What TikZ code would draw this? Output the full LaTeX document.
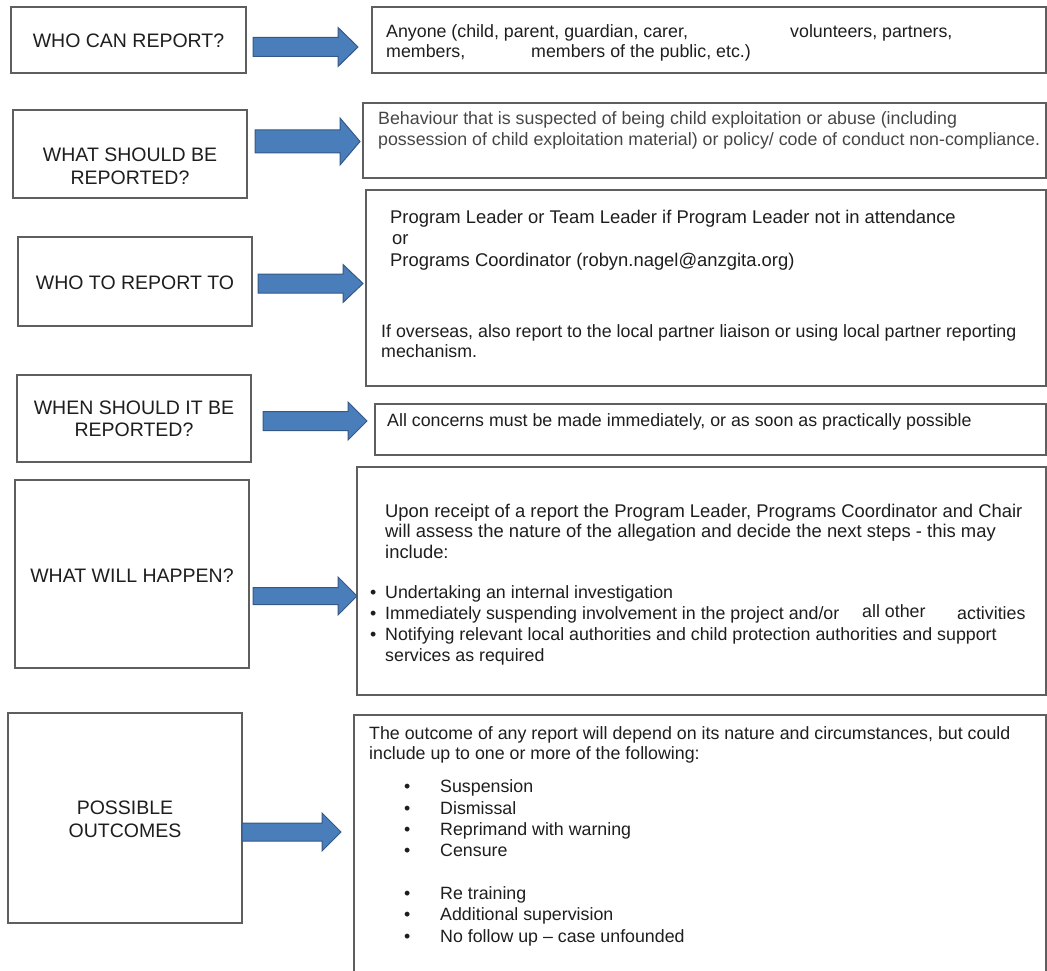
\documentclass[tikz,border=0pt]{standalone}
\usepackage{fontspec}
\setmainfont{Liberation Sans}
\definecolor{arrowfill}{RGB}{74,126,187}
\definecolor{arrowdraw}{RGB}{52,88,135}
\definecolor{boxline}{RGB}{95,95,95}
\definecolor{txtc}{RGB}{30,30,30}
\definecolor{txtl}{RGB}{70,70,70}
\tikzset{
  box/.style={draw=boxline, line width=1.3pt, fill=white, inner sep=0pt, outer sep=0pt},
  lbl/.style={inner sep=0pt, text=txtc, font=\fontsize{19.5}{22}\selectfont, anchor=base},
  body/.style={inner sep=0pt, text=txtc, font=\fontsize{17.8}{21}\selectfont, anchor=base west},
  bodyw/.style={body, font=\fontsize{18.4}{21}\selectfont},
  bodyl/.style={body, text=txtl},
  arr/.style={fill=arrowfill, draw=arrowdraw, line width=1pt, line join=miter}
}
\newcommand\mybox[5]{\node[box, anchor=north west, minimum width={#4-#2}, minimum height={#5-#3}] (#1) at (#2,#3) {};}
% x0, x1, xh, yc, body half, head half
\newcommand\blockarrow[6]{\draw[arr] (#1,#4-#5) -- (#3,#4-#5) -- (#3,#4-#6) -- (#2,#4) -- (#3,#4+#6) -- (#3,#4+#5) -- (#1,#4+#5) -- cycle;}
\begin{document}
\begin{tikzpicture}[x=1pt,y=-1pt]
\useasboundingbox (0,0) rectangle (1047,971);
\clip (0,0) rectangle (1047,971);
\fill[white] (0,0) rectangle (1047,971);

% left boxes
\mybox{L1}{11}{7}{246}{73}
\mybox{L2}{13}{110}{247}{198}
\mybox{L3}{18}{237}{252}{326}
\mybox{L4}{17}{375}{251}{462}
\mybox{L5}{15}{480}{249}{668}
\mybox{L6}{8}{713}{242}{923}

% right boxes
\mybox{R1}{372}{7}{1046}{73}
\mybox{R2}{363}{103}{1046}{178}
\mybox{R3}{366}{190}{1046}{386}
\mybox{R4}{375}{404}{1046}{455}
\mybox{R5}{357}{467}{1046}{695}
\mybox{R6}{354}{715}{1046}{985}

% arrows
\blockarrow{253}{358}{338}{47}{9.5}{19.5}
\blockarrow{255}{360}{340}{141.5}{11.5}{23.5}
\blockarrow{258}{363}{343}{283.5}{9.5}{19}
\blockarrow{263}{367}{348}{421}{9.5}{19}
\blockarrow{253}{357}{338}{596}{8.5}{19}
\blockarrow{242}{341}{322}{832}{9}{19}

% left labels
\node[lbl] (l1a) at (128.5,48) {WHO CAN REPORT?};
\node[lbl] (l2a) at (130,162) {WHAT SHOULD BE};
\node[lbl] (l2b) at (130,184) {REPORTED?};
\node[lbl] (l3a) at (135,289.5) {WHO TO REPORT TO};
\node[lbl] (l4a) at (134,414) {WHEN SHOULD IT BE};
\node[lbl] (l4b) at (134,436.5) {REPORTED?};
\node[lbl] (l5a) at (132,582) {WHAT WILL HAPPEN?};
\node[lbl] (l6a) at (125,814.5) {POSSIBLE};
\node[lbl] (l6b) at (125,837) {OUTCOMES};

% R1
\node[body] (r1a) at (386,38) {Anyone (child, parent, guardian, carer,};
\node[body] (r1b) at (790,38) {volunteers, partners,};
\node[body] (r1c) at (386,58) {members,};
\node[body] (r1d) at (531,58) {members of the public, etc.)};

% R2
\node[bodyl] (r2a) at (378,125) {Behaviour that is suspected of being child exploitation or abuse (including};
\node[bodyl] (r2b) at (378,145.5) {possession of child exploitation material) or policy/ code of conduct non-compliance.};

% R3
\node[bodyw] (r3a) at (390,223) {Program Leader or Team Leader if Program Leader not in attendance};
\node[bodyw] (r3b) at (392,244.5) {or};
\node[bodyw] (r3c) at (390,266) {Programs Coordinator (robyn.nagel@anzgita.org)};
\node[body] (r3d) at (381,337) {If overseas, also report to the local partner liaison or using local partner reporting};
\node[body] (r3e) at (381,357.5) {mechanism.};

% R4
\node[body] (r4a) at (387,426.5) {All concerns must be made immediately, or as soon as practically possible};

% R5
\node[bodyw] (r5a) at (385,517) {Upon receipt of a report the Program Leader, Programs Coordinator and Chair};
\node[bodyw] (r5b) at (385,537.5) {will assess the nature of the allegation and decide the next steps - this may};
\node[bodyw] (r5c) at (385,558) {include:};
\node[body] (r5d0) at (370,598.5) {•};
\node[body] (r5d) at (385,598.5) {Undertaking an internal investigation};
\node[body] (r5e0) at (370,619.5) {•};
\node[body] (r5e) at (385,619.5) {Immediately suspending involvement in the project and/or};
\node[body] (r5f) at (862,617.5) {all other};
\node[body] (r5g) at (957,619.5) {activities};
\node[body] (r5h0) at (370,640.5) {•};
\node[body] (r5h) at (385,640.5) {Notifying relevant local authorities and child protection authorities and support};
\node[body] (r5i) at (385,661.5) {services as required};

% R6
\node[body] (r6a) at (369,739) {The outcome of any report will depend on its nature and circumstances, but could};
\node[body] (r6b) at (369,759.5) {include up to one or more of the following:};
\node[body] (r6c0) at (404,792.5) {•};
\node[body] (r6c) at (440,792.5) {Suspension};
\node[body] (r6d0) at (404,814) {•};
\node[body] (r6d) at (440,814) {Dismissal};
\node[body] (r6e0) at (404,835) {•};
\node[body] (r6e) at (440,835) {Reprimand with warning};
\node[body] (r6f0) at (404,856.5) {•};
\node[body] (r6f) at (440,856.5) {Censure};
\node[body] (r6g0) at (404,899) {•};
\node[body] (r6g) at (440,899) {Re training};
\node[body] (r6h0) at (404,920.5) {•};
\node[body] (r6h) at (440,920.5) {Additional supervision};
\node[body] (r6i0) at (404,942.5) {•};
\node[body] (r6i) at (440,942.5) {No follow up – case unfounded};
\end{tikzpicture}
\end{document}
